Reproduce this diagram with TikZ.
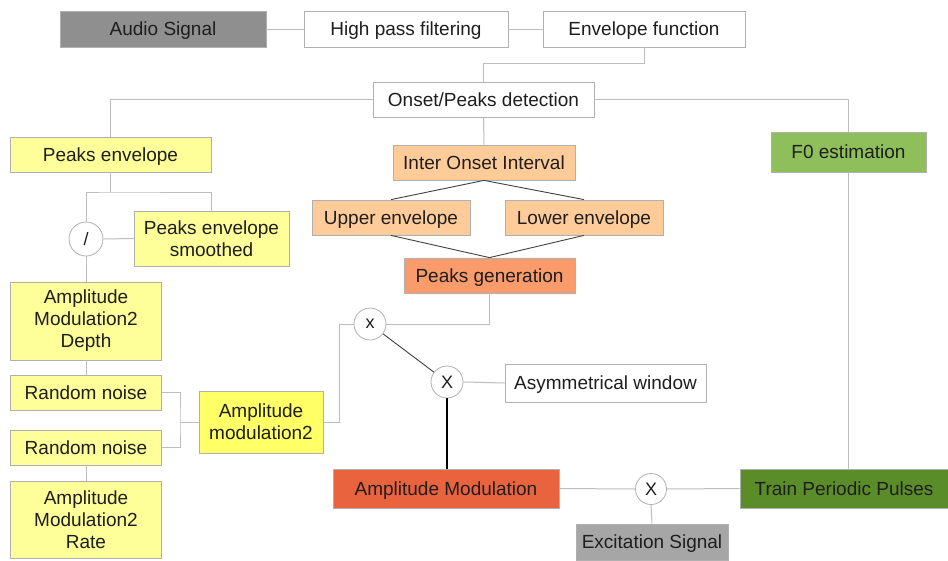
\documentclass[tikz,border=0pt]{standalone}
\usepackage{fontspec}
\setmainfont{Liberation Sans}
\definecolor{txt}{HTML}{1E1E1E}
\definecolor{conn}{HTML}{BDBDBD}
\definecolor{bord}{HTML}{B0B0B0}
\definecolor{gA}{HTML}{8F8F8F}
\definecolor{gB}{HTML}{A6A6A6}
\definecolor{ylw}{HTML}{FFFF99}
\definecolor{ylwB}{HTML}{FFFF66}
\definecolor{orL}{HTML}{FFCC99}
\definecolor{orM}{HTML}{F99B6A}
\definecolor{orD}{HTML}{E9633F}
\definecolor{grL}{HTML}{8FBF5A}
\definecolor{grD}{HTML}{5B8C2A}
\tikzset{
  box/.style={draw=bord, line width=0.8pt, rectangle, inner sep=0pt, align=center,
    text=txt, font=\fontsize{19}{22}\selectfont},
  one/.style={text height=13.6pt, text depth=0pt},
  circ/.style={draw=bord, line width=0.8pt, circle, fill=white, inner sep=0pt,
    text=txt, font=\fontsize{18}{22}\selectfont, text height=12.9pt, text depth=0pt},
  conn/.style={draw=conn, line width=1pt},
  dark/.style={draw=black!75, line width=0.9pt},
}
\begin{document}
\begin{tikzpicture}[x=1pt,y=-1pt]
\useasboundingbox[fill=white] (0,0) rectangle (948,560);
% nodes
\node[box, one, fill=gA, minimum width=206, minimum height=36] (audio) at (163,29) {Audio Signal};
\node[box, one, fill=white, minimum width=204, minimum height=36] (hpf) at (406,29) {High pass filtering};
\node[box, one, fill=white, minimum width=202, minimum height=36] (env) at (644,29) {Envelope function};
\node[box, one, fill=white, minimum width=221, minimum height=35] (onset) at (483.5,99.5) {Onset/Peaks detection};
\node[box, one, fill=ylw, minimum width=201, minimum height=35] (pe) at (110.5,154.5) {Peaks envelope};
\node[box, one, fill=grL, minimum width=155, minimum height=40] (f0) at (848.5,152) {F0 estimation};
\node[box, one, fill=orL, minimum width=182, minimum height=35] (ioi) at (484,162.5) {Inter Onset Interval};
\node[box, one, fill=orL, minimum width=158, minimum height=35] (up) at (391,217.5) {Upper envelope};
\node[box, one, fill=orL, minimum width=158, minimum height=35] (low) at (584,217.5) {Lower envelope};
\node[box, one, fill=orM, minimum width=171, minimum height=35] (pg) at (489.5,275.5) {Peaks generation};
\node[circ, minimum size=32, text height=9.7pt] (xc) at (370,324) {x};
\node[circ, minimum size=32] (Xc) at (447,382) {X};
\node[box, one, fill=white, minimum width=201, minimum height=38] (asym) at (605.5,383) {Asymmetrical window};
\node[box, one, fill=orD, minimum width=226, minimum height=39] (am) at (446,488.5) {Amplitude Modulation};
\node[circ, minimum size=31] (X2) at (651,489) {X};
\node[box, one, fill=grD, minimum width=208, minimum height=39] (tpp) at (844,488.5) {Train Periodic Pulses};
\node[box, one, fill=gB, minimum width=152, minimum height=36] (exc) at (652,542) {Excitation Signal};
\node[circ, minimum size=34] (div) at (86,239) {/};
\node[box, fill=ylw, minimum width=155, minimum height=55] (pes) at (211.5,238.5) {Peaks envelope\\smoothed};
\node[box, fill=ylw, minimum width=151, minimum height=78] (dep) at (86,321) {Amplitude\\Modulation2\\Depth};
\node[box, one, fill=ylw, minimum width=151, minimum height=35] (rn1) at (86,392.5) {Random noise};
\node[box, one, fill=ylw, minimum width=151, minimum height=35] (rn2) at (86,447.5) {Random noise};
\node[box, fill=ylw, minimum width=151, minimum height=77] (rate) at (86,519.5) {Amplitude\\Modulation2\\Rate};
\node[box, fill=ylwB, minimum width=124, minimum height=62] (am2) at (261,422) {Amplitude\\modulation2};
% junctions
\coordinate (j1) at (644,63);
\coordinate (j2) at (110.5,192);
\coordinate (j3) at (180,422);
\coordinate (j4) at (339,422);
% connectors
\draw[conn] (audio.east) -- (hpf.west);
\draw[conn] (hpf.east) -- (env.west);
\draw[conn] (env.south) -- (j1) -| (onset.north);
\draw[conn] (onset.west) -| (pe.north);
\draw[conn] (onset.east) -| (f0.north);
\draw[conn] (onset.south) -- (ioi.north);
\draw[dark] (ioi.south) -- (up.north);
\draw[dark] (ioi.south) -- (low.north);
\draw[dark] (up.south) -- (pg.north);
\draw[dark] (low.south) -- (pg.north);
\draw[conn] (pg.south) |- (xc.east);
\draw[dark] (xc) -- (Xc);
\draw[conn] (Xc.east) -- (asym.west);
\draw[draw=black, line width=1.1pt] (Xc.south) -- (Xc.south |- am.north);
\draw[conn] (am.east) -- (X2.west);
\draw[conn] (X2.east) -- (tpp.west);
\draw[conn] (X2.south) -- (exc.north);
\draw[conn] (f0.south) -- (f0.south |- tpp.north);
\draw[conn] (pe.south) -- (j2);
\draw[conn] (div.north) |- (j2) -| (pes.north);
\draw[conn] (div.east) -- (pes.west);
\draw[conn] (div.south) -- (dep.north);
\draw[conn] (dep.south) -- (rn1.north);
\draw[conn] (rn2.south) -- (rate.north);
\draw[conn] (rn1.east) -| (j3) |- (rn2.east);
\draw[conn] (j3) -- (am2.west);
\draw[conn] (am2.east) -- (j4) |- (xc.west);
\end{tikzpicture}
\end{document}
